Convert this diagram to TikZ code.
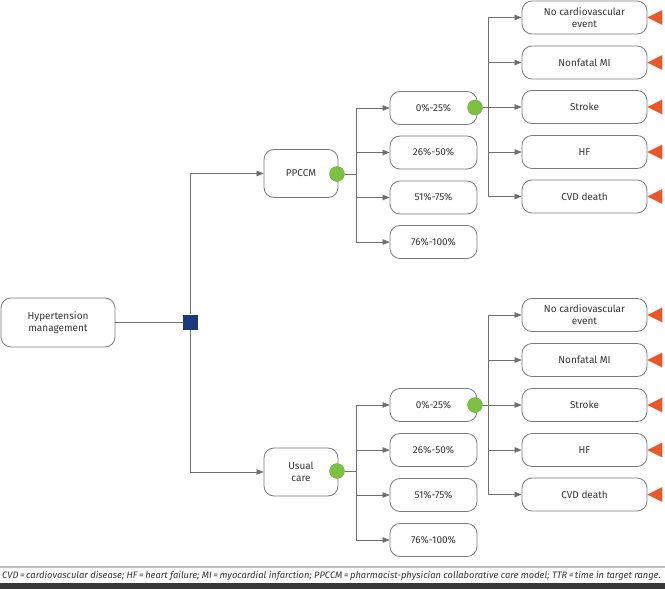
\documentclass[tikz,border=0pt]{standalone}
\usepackage{fontspec}
\setmainfont{Fira Sans}
\usetikzlibrary{arrows.meta,calc}
\definecolor{linec}{HTML}{6E6E6E}
\definecolor{boxc}{HTML}{7A7A7A}
\definecolor{greenc}{HTML}{7DC142}
\definecolor{navyc}{HTML}{1B3A7C}
\definecolor{redc}{HTML}{E8582B}
\definecolor{textc}{HTML}{333333}
\tikzset{
  rbox/.style={draw=boxc, line width=0.8pt, rounded corners=10pt, align=center, inner sep=1pt, font=\fontsize{10}{12}\selectfont, text=textc},
  pctbox/.style={rbox, minimum width=87pt, minimum height=33pt},
  outbox/.style={rbox, minimum width=125pt, minimum height=33pt},
  armbox/.style={rbox, minimum width=74pt, minimum height=48pt},
  conn/.style={draw=linec, line width=0.7pt},
  arr/.style={conn, -{Triangle[length=7pt,width=5.5pt]}},
  chance/.style={circle, fill=greenc, draw=greenc!80!black, line width=0.3pt, minimum size=15pt, inner sep=0pt},
  decision/.style={rectangle, fill=navyc, minimum size=15pt, inner sep=0pt},
  term/.style={fill=redc},
}
\begin{document}
\begin{tikzpicture}[x=1pt,y=-1pt]
\useasboundingbox (0,0) rectangle (665,589);
% root
\node[rbox, minimum width=114pt, minimum height=49pt] (hm) at (58,322.5) {Hypertension\\management};
\node[decision] (sq) at (190.5,322) {};
\draw[conn] (hm.east |- sq.west) -- (sq.west);
% arms
\node[armbox] (pp) at (301,173.5) {PPCCM};
\node[armbox] (uc) at (301,472) {Usual\\care};
\draw[arr] (sq.north) |- (pp.west);
\draw[arr] (sq.south) |- (uc.west);
% upper percentage boxes
\node[pctbox] (pa1) at (433.5,108) {0\%-25\%};
\node[pctbox] (pa2) at (433.5,152.5) {26\%-50\%};
\node[pctbox] (pa3) at (433.5,197.5) {51\%-75\%};
\node[pctbox] (pa4) at (433.5,242) {76\%-100\%};
% lower percentage boxes
\node[pctbox] (pb1) at (433.5,405) {0\%-25\%};
\node[pctbox] (pb2) at (433.5,450) {26\%-50\%};
\node[pctbox] (pb3) at (433.5,495) {51\%-75\%};
\node[pctbox] (pb4) at (433.5,540) {76\%-100\%};
% upper outcomes
\node[outbox] (oa1) at (584.5,17.5) {No cardiovascular\\event};
\node[outbox] (oa2) at (584.5,62.5) {Nonfatal MI};
\node[outbox] (oa3) at (584.5,107) {Stroke};
\node[outbox] (oa4) at (584.5,152) {HF};
\node[outbox] (oa5) at (584.5,196.5) {CVD death};
% lower outcomes
\node[outbox] (ob1) at (584.5,315) {No cardiovascular\\event};
\node[outbox] (ob2) at (584.5,360) {Nonfatal MI};
\node[outbox] (ob3) at (584.5,405) {Stroke};
\node[outbox] (ob4) at (584.5,450) {HF};
\node[outbox] (ob5) at (584.5,494.5) {CVD death};
% chance nodes
\node[chance] (cpp) at (337,174) {};
\node[chance] (cuc) at (337,471) {};
\node[chance] (cpa) at (475,107.5) {};
\node[chance] (cpb) at (475,405) {};
% trunks
\coordinate (tpp) at (356,174);
\coordinate (tuc) at (356,471);
\coordinate (tpa) at (488,107.5);
\coordinate (tpb) at (488,405);
\draw[conn] (cpp.east) -- (tpp);
\draw[conn] (cuc.east) -- (tuc);
\draw[conn] (cpa.east) -- (tpa);
\draw[conn] (cpb.east) -- (tpb);
\draw[conn] (tpp |- pa1.west) -- (tpp |- pa4.west);
\draw[conn] (tuc |- pb1.west) -- (tuc |- pb4.west);
\draw[conn] (tpa |- oa1.west) -- (tpa |- oa5.west);
\draw[conn] (tpb |- ob1.west) -- (tpb |- ob5.west);
\foreach \i in {1,2,3,4}{
  \draw[arr] (tpp |- pa\i.west) -- (pa\i.west);
  \draw[arr] (tuc |- pb\i.west) -- (pb\i.west);
}
\foreach \i in {1,2,3,4,5}{
  \draw[arr] (tpa |- oa\i.west) -- (oa\i.west);
  \draw[arr] (tpb |- ob\i.west) -- (ob\i.west);
  \fill[term] ($(oa\i.east)+(0,0)$) -- ++(15,-7.5) -- ++(0,15) -- cycle;
  \fill[term] ($(ob\i.east)+(0,0)$) -- ++(15,-7.5) -- ++(0,15) -- cycle;
}
% footer
\draw[black!25, line width=2.2pt] (0,567) -- (665,567);
\node[anchor=west, inner sep=0pt, text=textc, font=\fontsize{9.35}{11}\selectfont\itshape] (foot) at (2,576) {CVD\,=\,cardiovascular disease; HF\,=\,heart failure; MI\,=\,myocardial infarction; PPCCM\,=\,pharmacist-physician collaborative care model; TTR\,=\,time in target range.};
\fill[black!78] (0,583) rectangle (665,589);
\end{tikzpicture}
\end{document}
